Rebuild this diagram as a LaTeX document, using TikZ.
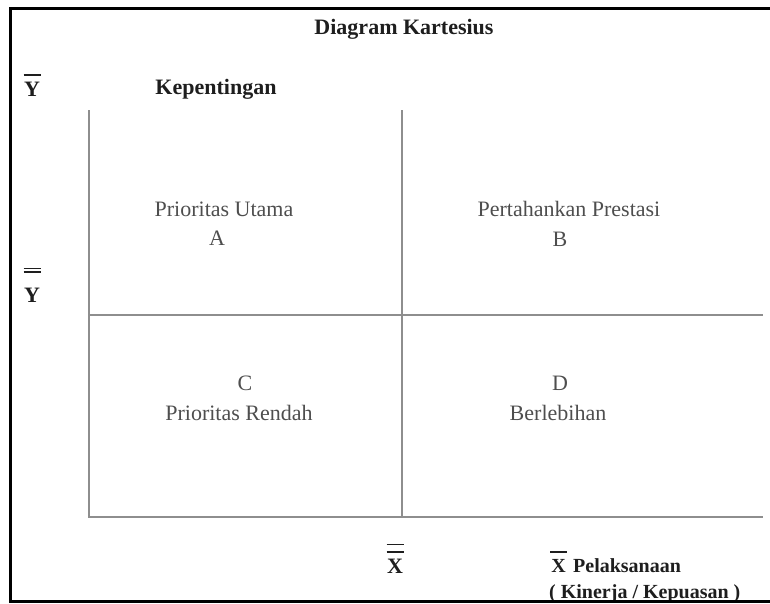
\documentclass[tikz,border=0pt]{standalone}
\usepackage{fontspec}
\setmainfont{Liberation Serif}
\usepackage{tikz}
\usepackage{xcolor}
\usetikzlibrary{calc}
\definecolor{axisgray}{HTML}{8E8E8E}
\definecolor{textgray}{HTML}{4E4E4E}
\definecolor{inkdark}{HTML}{1E1E1E}
\newcommand{\barrule}{\hbox to 17pt{\hss\vrule height1.5pt depth0pt width17pt\hss}}
\newcommand{\barone}[2]{\vbox{\offinterlineskip\barrule\kern#2\hbox to 17pt{\hss#1\hss}}}
\newcommand{\bartwo}[3]{\vbox{\offinterlineskip\barrule\kern#2\barrule\kern#3\hbox to 17pt{\hss#1\hss}}}
\tikzset{
    frame/.style = {draw=black, line width=3pt},
    axis/.style = {draw=axisgray, line width=1.8pt},
    boldlabel/.style = {text=inkdark, anchor=base, inner sep=0pt,
        font=\fontsize{22}{26}\selectfont\bfseries},
    smallbold/.style = {boldlabel, anchor=base west,
        font=\fontsize{20}{24}\selectfont\bfseries},
    quadlabel/.style = {text=textgray, anchor=base, inner sep=0pt,
        font=\fontsize{22}{26}\selectfont}
}
\begin{document}
\begin{tikzpicture}[x=1pt, y=-1pt]
            \useasboundingbox (0,0) rectangle (770,603);
            \coordinate (origin) at (89,517);
            \coordinate (ytop) at (89,110);
            \coordinate (xend) at (763,517);
            \coordinate (midtop) at (402,110);
            \coordinate (midbot) at (402,517);
            \coordinate (midleft) at (89,315);
            \coordinate (midright) at (763,315);
            \draw [frame] (770,8) -| (10,601) -- (770,601);
            \draw [axis] (ytop) -- (origin) -- (xend);
            \draw [axis] (midtop) -- (midbot);
            \draw [axis] (midleft) -- (midright);
            \node [boldlabel] (title) at (404,34) {Diagram Kartesius};
            \node [boldlabel] (ybar) at (32,96) {\barone{Y}{6pt}};
            \node [boldlabel] (yaxis) at (216,94) {Kepentingan};
            \node [boldlabel] (ybarbar) at (32,302) {\bartwo{Y}{2pt}{15pt}};
            \node [boldlabel] (xbarbar) at (395,573) {\bartwo{X}{6pt}{6pt}};
            \node [smallbold] (xbar) at (550,572) {\barone{X}{6pt}\hspace{6pt}Pelaksanaan};
            \node [smallbold] (xaxis) at (549,598) {( Kinerja / Kepuasan )};
            \node [quadlabel] (quadA) at (224,216) {Prioritas Utama};
            \node [quadlabel] (letterA) at (217,245) {A};
            \node [quadlabel] (quadB) at (569,216) {Pertahankan Prestasi};
            \node [quadlabel] (letterB) at (560,246) {B};
            \node [quadlabel] (letterC) at (245,390) {C};
            \node [quadlabel] (quadC) at (239,420) {Prioritas Rendah};
            \node [quadlabel] (letterD) at (560,390) {D};
            \node [quadlabel] (quadD) at (558,420) {Berlebihan};
            \draw [frame] (10,601) -- (770,601);
        \end{tikzpicture}
\end{document}
